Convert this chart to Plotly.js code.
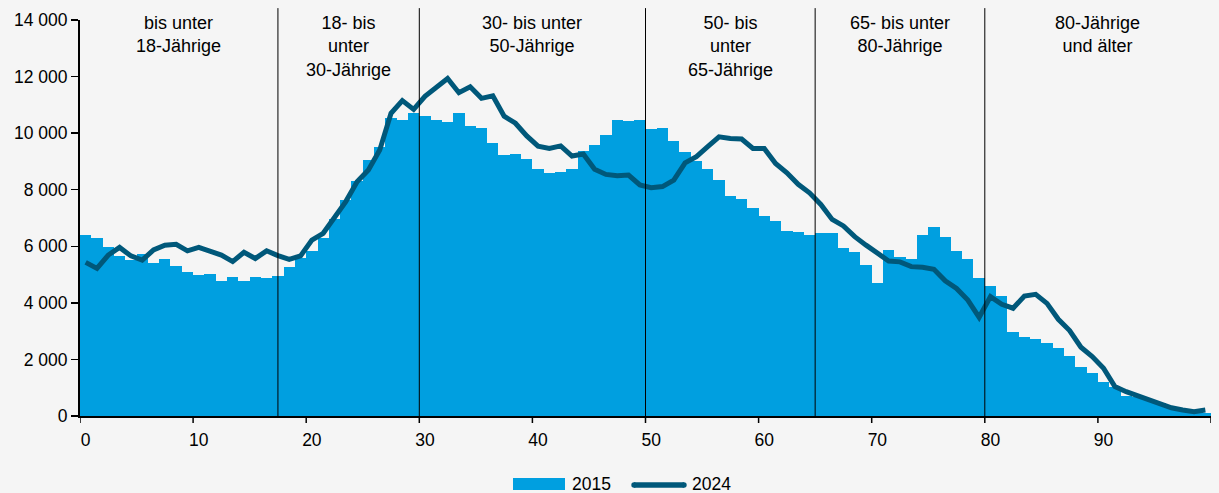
<!DOCTYPE html>
<html>
<head>
<meta charset="utf-8">
<script src="https://cdn.plot.ly/plotly-3.0.1.min.js"></script>
<style>
html,body{margin:0;padding:0;background:#f5f5f5;}
#chart{width:1219px;height:493px;}
</style>
</head>
<body>
<div id="chart"></div>
<script>
// Ages 0..99
const ages = Array.from({length: 100}, (_, i) => i);

// 2015 (bars)
const values2015 = [
  6400, 6300, 5980, 5650, 5500, 5720, 5420, 5550, 5300, 5100,
  4980, 5020, 4770, 4900, 4780, 4920, 4880, 4950, 5270, 5600,
  5850, 6300, 6950, 7650, 8300, 9050, 9500, 10520, 10480, 10700,
  10600, 10460, 10400, 10700, 10260, 10190, 9640, 9210, 9250, 9080,
  8740, 8590, 8620, 8730, 9380, 9580, 9940, 10450, 10430, 10460,
  10130, 10170, 9740, 9320, 9000, 8720, 8340, 7780, 7660, 7370,
  7080, 6890, 6540, 6500, 6400, 6470, 6480, 5930, 5810, 5340,
  4710, 5860, 5610, 5540, 6400, 6670, 6330, 5840, 5540, 4880,
  4580, 4240, 2970, 2780, 2730, 2570, 2410, 2120, 1720, 1510,
  1190, 1040, 710, 680, 570, 450, 330, 240, 150, 120
];

// 2024 (line)
const values2024 = [
  5430, 5220, 5690, 5960, 5660, 5510, 5870, 6040, 6070, 5840,
  5960, 5810, 5690, 5460, 5790, 5570, 5840, 5670, 5540, 5660,
  6220, 6460, 6990, 7580, 8280, 8700, 9400, 10700, 11150, 10840,
  11300, 11640, 11930, 11430, 11640, 11230, 11320, 10600, 10350, 9900,
  9540, 9460, 9550, 9190, 9260, 8720, 8540, 8490, 8520, 8170,
  8070, 8110, 8340, 8950, 9170, 9520, 9870, 9810, 9790, 9460,
  9460, 8930, 8600, 8190, 7890, 7480, 6950, 6720, 6340, 6040,
  5770, 5480, 5450, 5280, 5260, 5190, 4780, 4510, 4100, 3490,
  4220, 3950, 3810, 4240, 4300, 3980, 3420, 3020, 2430, 2100,
  1690, 1040, 860, 710, 570, 410, 290, 210, 150, 210
];

// Age group separators and labels
const groupBounds = [17, 29.5, 49.5, 64.5, 79.5];
const groupLabels = [
  "bis unter<br>18-Jährige",
  "18- bis<br>unter<br>30-Jährige",
  "30- bis unter<br>50-Jährige",
  "50- bis<br>unter<br>65-Jährige",
  "65- bis unter<br>80-Jährige",
  "80-Jährige<br>und älter"
];

const xLabelVals = [0, 10, 20, 30, 40, 50, 60, 70, 80, 90];
const xLabelText = ["0", "10", "20", "30", "40", "50", "60", "70", "80", "90"];
const xTickMarks = [-0.5, 9.5, 19.5, 29.5, 39.5, 49.5, 59.5, 69.5, 79.5, 89.5, 99.5];
const yTickVals = [0, 2000, 4000, 6000, 8000, 10000, 12000, 14000];

const seriesNames = ["2015", "2024"];

const BAR_COLOR = "#009fe0";
const LINE_COLOR = "#00587a";
const FONT = "Liberation Sans, Arial, sans-serif";

const xMin = -0.5, xMax = 99.5;
const edges = [xMin].concat(groupBounds, [xMax]);

const traces = [
  {
    type: "bar",
    x: ages,
    y: values2015,
    name: seriesNames[0],
    marker: {color: BAR_COLOR, line: {width: 0}},
    showlegend: false
  },
  {
    type: "scatter",
    mode: "lines",
    x: ages,
    y: values2024,
    name: seriesNames[1],
    line: {color: LINE_COLOR, width: 5},
    showlegend: false
  }
];

const shapes = groupBounds.map(b => ({
  type: "line", xref: "x", yref: "paper",
  x0: b, x1: b, y0: 0, y1: 1.03,
  line: {color: "#000", width: 1}, layer: "above"
}));

// x-axis tick marks on category boundaries
xTickMarks.forEach(t => shapes.push({
  type: "line", xref: "x", yref: "paper",
  x0: t, x1: t, y0: 0, y1: -7 / 396,
  line: {color: "#000", width: 1.5}
}));

// custom legend
shapes.push({
  type: "rect", xref: "paper", yref: "paper",
  x0: (513 - 80) / 1131, x1: (565 - 80) / 1131,
  y0: (416 - 478) / 396, y1: (416 - 490) / 396,
  fillcolor: BAR_COLOR, line: {width: 0}
});
shapes.push({
  type: "line", xref: "paper", yref: "paper",
  x0: (634 - 80) / 1131, x1: (684 - 80) / 1131,
  y0: (416 - 485) / 396, y1: (416 - 485) / 396,
  line: {color: LINE_COLOR, width: 5.5}
});
shapes.push({
  type: "circle", xref: "paper", yref: "paper",
  x0: (631.3 - 80) / 1131, x1: (636.7 - 80) / 1131,
  y0: (416 - 482.3) / 396, y1: (416 - 487.7) / 396,
  fillcolor: LINE_COLOR, line: {width: 0}
});
shapes.push({
  type: "circle", xref: "paper", yref: "paper",
  x0: (681.3 - 80) / 1131, x1: (686.7 - 80) / 1131,
  y0: (416 - 482.3) / 396, y1: (416 - 487.7) / 396,
  fillcolor: LINE_COLOR, line: {width: 0}
});

const annotations = groupLabels.map((t, i) => ({
  text: t, xref: "x", yref: "paper",
  x: (edges[i] + edges[i + 1]) / 2, y: (416 - 11) / 396,
  xanchor: "center", yanchor: "top", showarrow: false, align: "center",
  font: {family: FONT, size: 18, color: "#000"}
}));
annotations.push({
  text: seriesNames[0], xref: "paper", yref: "paper",
  x: (570 - 80) / 1131, y: (416 - 484) / 396,
  xanchor: "left", yanchor: "middle", showarrow: false,
  font: {family: FONT, size: 17.5, color: "#000"}
});
annotations.push({
  text: seriesNames[1], xref: "paper", yref: "paper",
  x: (690 - 80) / 1131, y: (416 - 484) / 396,
  xanchor: "left", yanchor: "middle", showarrow: false,
  font: {family: FONT, size: 17.5, color: "#000"}
});

const layout = {
  width: 1219, height: 493,
  margin: {l: 80, r: 8, t: 20, b: 77, pad: 0},
  paper_bgcolor: "#f5f5f5",
  plot_bgcolor: "#f5f5f5",
  separators: ", ",
  font: {family: FONT, size: 17.5, color: "#000"},
  bargap: 0,
  showlegend: false,
  xaxis: {
    range: [xMin, xMax],
    tickmode: "array", tickvals: xLabelVals, ticktext: xLabelText,
    ticks: "outside", ticklen: 7, tickwidth: 0, tickcolor: "rgba(0,0,0,0)",
    showline: true, linecolor: "#000", linewidth: 2,
    showgrid: false, zeroline: false,
    tickfont: {family: FONT, size: 17.5, color: "#000"}
  },
  yaxis: {
    range: [0, 14000],
    tickmode: "array", tickvals: yTickVals,
    tickformat: ",d",
    ticksuffix: " ",
    ticks: "outside", ticklen: 7, tickwidth: 1.5, tickcolor: "#000",
    showline: true, linecolor: "#000", linewidth: 2,
    showgrid: false, zeroline: false,
    tickfont: {family: FONT, size: 17.5, color: "#000"}
  },
  shapes: shapes,
  annotations: annotations
};

Plotly.newPlot("chart", traces, layout, {displayModeBar: false, staticPlot: true});
</script>
</body>
</html>
